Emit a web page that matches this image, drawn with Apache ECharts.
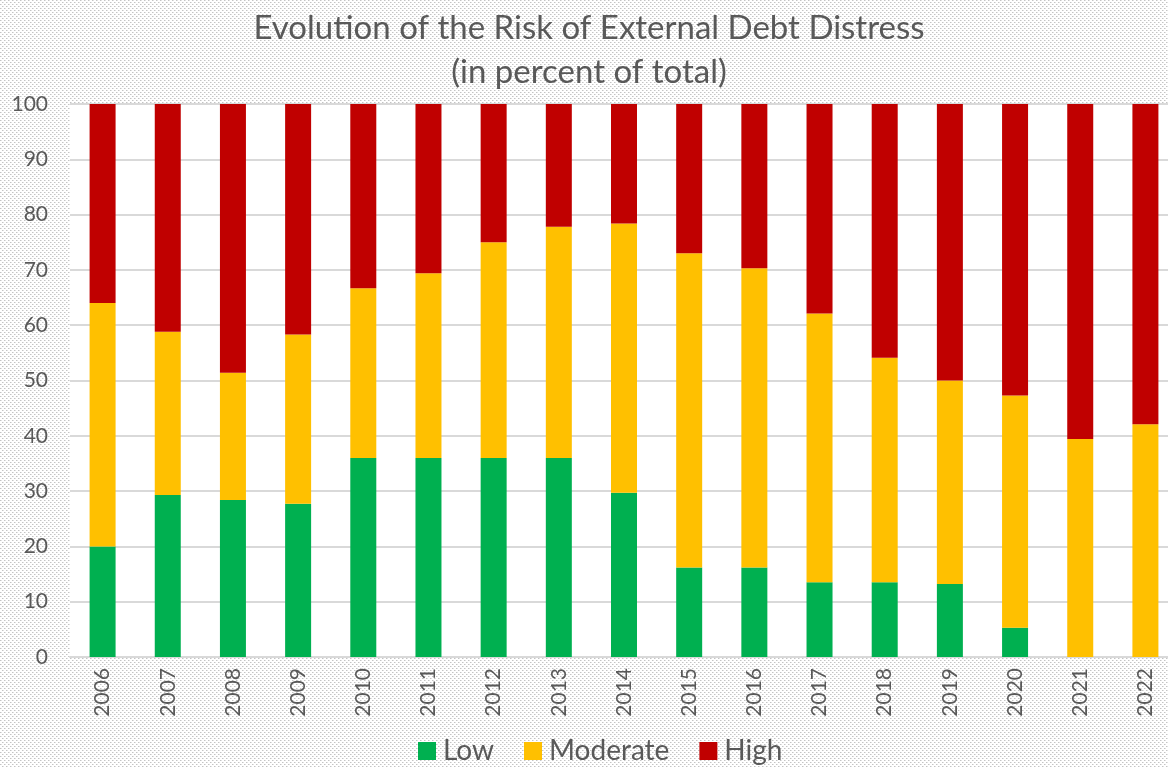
<!DOCTYPE html>
<html>
<head>
<meta charset="utf-8">
<title>Evolution of the Risk of External Debt Distress</title>
<script src="https://cdn.jsdelivr.net/npm/echarts@6/dist/echarts.min.js"></script>
<style>
  html, body { margin: 0; padding: 0; background: #fff; overflow: hidden; }
  #chart { width: 1178px; height: 767px; }
</style>
</head>
<body>
<div id="chart"></div>
<script>
// Share of countries by risk rating, in percent of total
const years = ['2006','2007','2008','2009','2010','2011','2012','2013','2014','2015','2016','2017','2018','2019','2020','2021','2022'];
const low      = [20.0, 29.3, 28.4, 27.7, 36.0, 36.0, 36.0, 36.0, 29.7, 16.2, 16.2, 13.5, 13.5, 13.2, 5.3, 0, 0];
const moderate = [44.0, 29.5, 23.0, 30.6, 30.7, 33.4, 39.0, 41.8, 48.7, 56.8, 54.1, 48.6, 40.6, 36.8, 42.0, 39.4, 42.1];
const high     = [36.0, 41.2, 48.6, 41.7, 33.3, 30.6, 25.0, 22.2, 21.6, 27.0, 29.7, 37.9, 45.9, 50.0, 52.7, 60.6, 57.9];
const yTicks   = { min: 0, max: 100, step: 10 };

const FONT = 'Lato, "Open Sans", sans-serif';
const TEXT = '#595959';

// dotted fill used behind the whole chart
function dotPattern() {
  const c = document.createElement('canvas');
  c.width = 4; c.height = 4;
  const g = c.getContext('2d');
  g.fillStyle = '#ffffff';
  g.fillRect(0, 0, 4, 4);
  g.fillStyle = '#c4c4c4';
  g.fillRect(0, 0, 1, 1);
  g.fillRect(2, 2, 1, 1);
  g.fillStyle = '#e2e2e2';
  g.fillRect(1, 0, 1, 1);
  g.fillRect(3, 2, 1, 1);
  return c;
}

const chart = echarts.init(document.getElementById('chart'), null, { renderer: 'canvas' });

function barSeries(name, data, color) {
  return {
    name: name,
    type: 'bar',
    stack: 'risk',
    data: data,
    barWidth: 26,
    itemStyle: { color: color },
    emphasis: { disabled: true }
  };
}

chart.setOption({
  animation: false,
  backgroundColor: { image: dotPattern(), repeat: 'repeat' },
  textStyle: { fontFamily: FONT },
  title: {
    text: 'Evolution of the Risk of External Debt Distress\n(in percent of total)',
    left: 'center',
    top: 1,
    textStyle: {
      fontFamily: FONT,
      fontSize: 33,
      fontWeight: 'normal',
      color: TEXT,
      lineHeight: 44
    }
  },
  legend: {
    bottom: -3,
    left: 413,
    itemWidth: 18,
    itemHeight: 18,
    itemGap: 30,
    icon: 'rect',
    textStyle: { fontFamily: FONT, fontSize: 28, color: TEXT, padding: [0, 0, 0, 2] },
    data: ['Low', 'Moderate', 'High']
  },
  grid: {
    left: 70,
    right: 0,
    top: 104,
    bottom: 110,
    show: true,
    backgroundColor: '#ffffff',
    borderWidth: 0,
    containLabel: false
  },
  xAxis: {
    type: 'category',
    data: years,
    axisLine: { show: true, lineStyle: { color: '#d9d9d9', width: 2 } },
    axisTick: { show: false },
    axisLabel: {
      rotate: 90,
      margin: 11,
      fontFamily: FONT,
      fontSize: 21,
      color: TEXT
    }
  },
  yAxis: {
    type: 'value',
    min: yTicks.min,
    max: yTicks.max,
    interval: yTicks.step,
    axisLine: { show: false },
    axisTick: { show: false },
    splitLine: { lineStyle: { color: '#d9d9d9', width: 2 } },
    axisLabel: {
      margin: 22,
      fontFamily: FONT,
      fontSize: 21,
      color: TEXT
    }
  },
  series: [
    barSeries('Low', low, '#00b050'),
    barSeries('Moderate', moderate, '#ffc000'),
    barSeries('High', high, '#c00000')
  ]
});
</script>
</body>
</html>
